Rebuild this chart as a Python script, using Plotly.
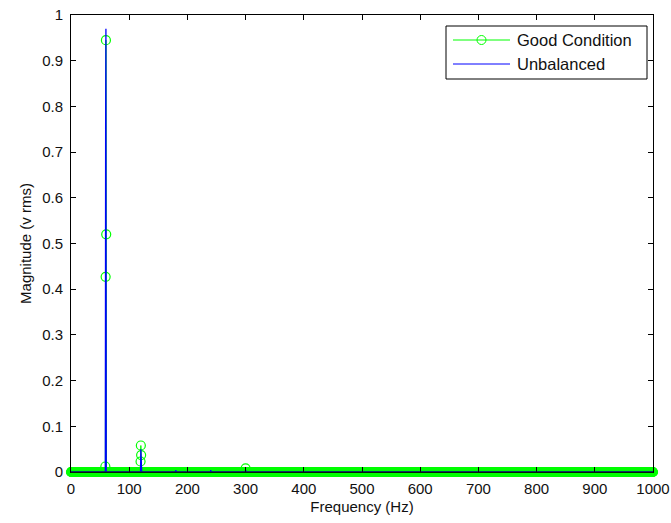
import numpy as np
import plotly.graph_objects as go

# ---- data ----
freq_step_hz = 0.5          # FFT bin width
freq_max_hz = 1000.0

good_peak_freqs = [59.0, 59.5, 60.0, 60.5, 119.5, 120.0, 120.5, 300.0]
good_peak_mags = [0.012, 0.427, 0.945, 0.52, 0.023, 0.058, 0.037, 0.008]

unbal_peak_freqs = [59.5, 60.0, 120.0, 180.0, 240.0, 300.0]
unbal_peak_mags = [0.75, 0.97, 0.05, 0.004, 0.004, 0.004]

x_ticks = [0, 100, 200, 300, 400, 500, 600, 700, 800, 900, 1000]
y_ticks = [0, 0.1, 0.2, 0.3, 0.4, 0.5, 0.6, 0.7, 0.8, 0.9, 1]

series_names = ["Good Condition", "Unbalanced"]

# ---- build spectra on the frequency grid ----
freq = np.arange(0, freq_max_hz + freq_step_hz / 2, freq_step_hz)
good = np.zeros_like(freq)
unbal = np.zeros_like(freq)
for f, m in zip(good_peak_freqs, good_peak_mags):
    good[int(round(f / freq_step_hz))] = m
for f, m in zip(unbal_peak_freqs, unbal_peak_mags):
    unbal[int(round(f / freq_step_hz))] = m

GREEN = "#00ff00"
BLUE = "#0000ff"
FONT = "Liberation Sans, Arial, sans-serif"

fig = go.Figure()
fig.add_trace(go.Scatter(
    x=freq, y=good, mode="lines+markers", name=series_names[0],
    line=dict(color=GREEN, width=1),
    marker=dict(symbol="circle-open", size=9, color=GREEN, line=dict(width=1.2, color=GREEN)),
    cliponaxis=False, showlegend=False,
))
fig.add_trace(go.Scatter(
    x=freq, y=unbal, mode="lines", name=series_names[1],
    line=dict(color=BLUE, width=1.3),
    showlegend=False,
))

# ---- plot-area geometry (pixels) for the MATLAB-style legend ----
W, H = 671, 523
ml, mr, mt, mb = 71, 18, 15, 51
pw, ph = W - ml - mr, H - mt - mb


def px(xp):
    return (xp - ml) / pw


def py(yp):
    return (H - mb - yp) / ph


shapes = [
    # bottom axis line drawn over the dense green markers (as in MATLAB)
    dict(type="line", xref="paper", yref="paper", x0=0, x1=1, y0=0, y1=0,
         line=dict(color="#103010", width=1.2), layer="above"),
    dict(type="rect", xref="paper", yref="paper",
         x0=px(446), x1=px(647), y0=py(79), y1=py(26),
         line=dict(color="black", width=1), fillcolor="white", layer="above"),
    dict(type="line", xref="paper", yref="paper",
         x0=px(453), x1=px(510), y0=py(40), y1=py(40),
         line=dict(color=GREEN, width=1), layer="above"),
    dict(type="circle", xref="paper", yref="paper",
         xsizemode="pixel", ysizemode="pixel",
         xanchor=px(481.5), yanchor=py(40),
         x0=-4.5, x1=4.5, y0=-4.5, y1=4.5,
         line=dict(color=GREEN, width=1), layer="above"),
    dict(type="line", xref="paper", yref="paper",
         x0=px(453), x1=px(510), y0=py(64), y1=py(64),
         line=dict(color=BLUE, width=1), layer="above"),
]
annotations = [
    dict(text=series_names[0], xref="paper", yref="paper", x=px(515), y=py(40),
         xanchor="left", yanchor="middle", showarrow=False,
         font=dict(family=FONT, size=16.5, color="#111")),
    dict(text=series_names[1], xref="paper", yref="paper", x=px(515), y=py(64),
         xanchor="left", yanchor="middle", showarrow=False,
         font=dict(family=FONT, size=16.5, color="#111")),
]

axis_common = dict(
    showline=True, linecolor="black", linewidth=1, mirror="ticks",
    ticks="inside", ticklen=5, tickcolor="black", tickwidth=1,
    showgrid=False, zeroline=False, automargin=False,
    ticklabeloverflow="allow",
    tickfont=dict(family=FONT, size=15, color="#111"),
)

fig.update_layout(
    template="none",
    width=W, height=H,
    margin=dict(l=ml, r=mr, t=mt, b=mb, pad=0, autoexpand=False),
    paper_bgcolor="white", plot_bgcolor="white",
    showlegend=False,
    shapes=shapes, annotations=annotations,
    xaxis=dict(range=[0, 1000], tickvals=x_ticks,
               title=dict(text="Frequency (Hz)", font=dict(family=FONT, size=15, color="#111"), standoff=5),
               ticklabelstandoff=3, **axis_common),
    yaxis=dict(range=[0, 1], tickvals=y_ticks,
               ticktext=[f"{v:g}" for v in y_ticks],
               title=dict(text="Magnitude (v rms)", font=dict(family=FONT, size=15, color="#111"), standoff=6),
               ticklabelstandoff=4, **axis_common),
)

fig.write_html("out.html",
               config={"displayModeBar": False},
               post_script="document.body.style.margin='0';document.body.style.overflow='hidden';")
